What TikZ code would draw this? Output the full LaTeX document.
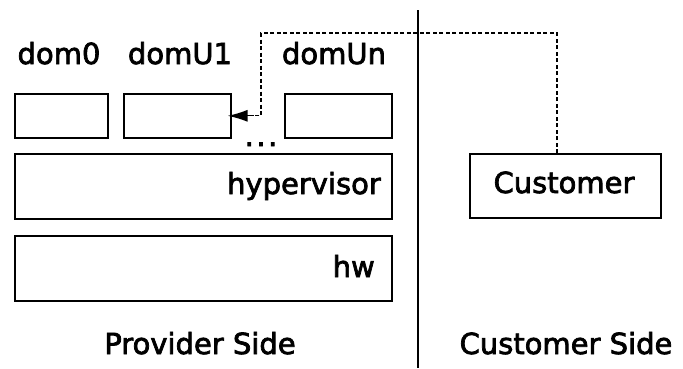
\documentclass[tikz,border=0pt]{standalone}
\usepackage{fontspec}
\setmainfont{DejaVu Sans}
\newfontfamily\lblfont[FakeBold=2.5]{DejaVu Sans}
\usetikzlibrary{calc,arrows.meta}
\begin{document}
\begin{tikzpicture}[x=1pt,y=-1pt,
  every node/.style={font=\lblfont\fontsize{29}{34}\selectfont},
  box/.style={draw,line width=1.6pt,anchor=north west,inner sep=0pt},
  lbl/.style={inner sep=0pt},
  link/.style={line width=1.3pt,dash pattern=on 4pt off 2.5pt},
  divider/.style={line width=1.8pt}]
\useasboundingbox (0,0) rectangle (683,368);

% domains
\node[box,minimum width=93pt,minimum height=44pt]  (dom0)  at (14,93)  {};
\node[box,minimum width=107pt,minimum height=44pt] (domU1) at (123,93) {};
\node[box,minimum width=107pt,minimum height=44pt] (domUn) at (284,93) {};
\node[lbl,anchor=base] (t0) at (59,64)  {dom0};
\node[lbl,anchor=base] (t1) at (180,64) {domU1};
\node[lbl,anchor=base] (tn) at (334,64) {domUn};
\node[lbl,anchor=base] (dots) at (261,146) {.\kern2.5pt.\kern2.5pt.};

% hypervisor and hardware layers
\node[box,minimum width=377pt,minimum height=65pt] (hyp) at (14,153) {};
\node[lbl,anchor=base east] (thyp) at (381,194) {hypervisor};
\node[box,minimum width=377pt,minimum height=65pt] (hw) at (14,235) {};
\node[lbl,anchor=base east] (thw) at (375,277) {hw};

% customer
\node[box,minimum width=191pt,minimum height=64pt] (cust) at (469,153) {};
\node[lbl,anchor=base] (tcust) at (564,193) {Customer};

% side labels and divider
\coordinate (dtop) at (418,10);
\coordinate (dbot) at (418,368);
\draw[divider] (dtop) -- (dbot);
\node[lbl,anchor=base] (prov) at (200,354) {Provider Side};
\node[lbl,anchor=base] (custside) at (566,354) {Customer Side};

% link from the customer to domU1
\coordinate (a) at (261,33);
\coordinate (b) at (557,33);
\draw[link] (cust.north -| b) -- (b) -- (a) -- (a |- domU1.east) -- (domU1.east);
\draw[line width=1.3pt,-{Latex[length=20pt,width=12pt]}] ($(domU1.east)+(22,0)$) -- ($(domU1.east)+(-4,0)$);
\end{tikzpicture}
\end{document}
